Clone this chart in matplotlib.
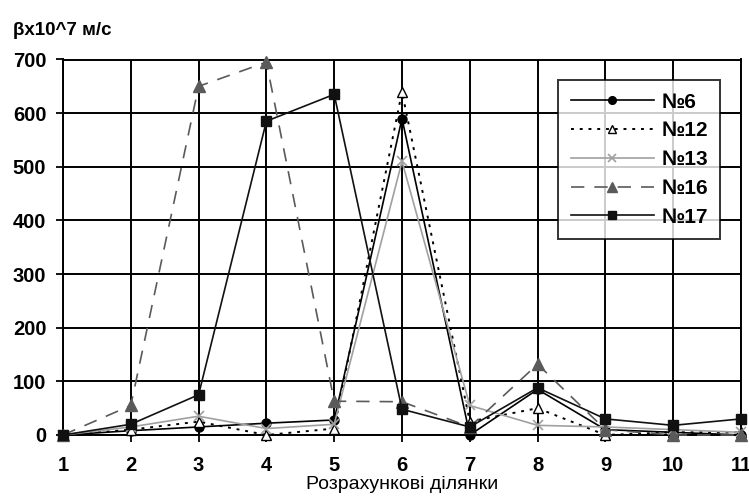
import matplotlib
matplotlib.use('Agg')
import matplotlib.pyplot as plt

plt.rcParams['font.family'] = ['Liberation Sans', 'DejaVu Sans']

# розрахункові ділянки
x = [1, 2, 3, 4, 5, 6, 7, 8, 9, 10, 11]

n6 = [0, 8, 15, 22, 28, 590, 0, 85, 10, 5, 0]
n12 = [0, 10, 25, 0, 12, 640, 25, 50, 0, 5, 5]
n13 = [0, 15, 35, 12, 20, 510, 55, 18, 15, 10, 5]
n16 = [0, 55, 650, 695, 63, 62, 15, 132, 10, 0, 0]
n17 = [0, 20, 75, 585, 635, 48, 15, 88, 30, 18, 30]

fig = plt.figure(figsize=(7.49, 5), dpi=100)
ax = fig.add_axes([0.0841, 0.13, 0.9052, 0.751])

ax.plot(x, n6, color='black', lw=1.2, marker='o', ms=6.5, label='№6', clip_on=False, zorder=5)
ax.plot(x, n12, color='black', lw=1.4, ls=(0, (1.5, 3)), marker='^', ms=7.5,
        mfc='white', mec='black', label='№12', clip_on=False, zorder=5)
ax.plot(x, n13, color='#a0a0a0', lw=1.2, marker='x', ms=7.5, mew=1.2, label='№13', clip_on=False, zorder=5)
ax.plot(x, n16, color='#5a5a5a', lw=1.2, ls=(0, (8, 6)), marker='^', ms=8, label='№16', clip_on=False, zorder=5)
ax.plot(x, n17, color='#111111', lw=1.2, marker='s', ms=7.5, label='№17', clip_on=False, zorder=5)

ax.set_xlim(1, 11)
ax.set_ylim(0, 700)
ax.set_xticks(x)
ax.set_yticks(range(0, 701, 100))
ax.grid(True, color='black', lw=1.4)
for s in ax.spines.values():
    s.set_linewidth(1.4)
ax.tick_params(axis='both', length=5, width=1.3, labelsize=14.5)
ax.tick_params(axis='x', pad=10)
ax.tick_params(axis='y', pad=7)
for t in ax.get_xticklabels() + ax.get_yticklabels():
    t.set_fontweight('bold')

ax.set_xlabel('Розрахункові ділянки', fontsize=14, labelpad=1)
fig.text(0.017, 0.93, 'βx10^7 м/с', fontsize=13.5, fontweight='bold')

leg = ax.legend(loc='upper left', bbox_to_anchor=(558 / 749, 1 - 80 / 500),
                bbox_transform=fig.transFigure, frameon=True, fancybox=False,
                edgecolor='black', handlelength=4.0, prop={'weight': 'bold', 'size': 15},
                labelspacing=0.47, borderpad=0.6, handletextpad=0.35, markerscale=0.85,
                borderaxespad=0)
leg.get_frame().set_linewidth(1.4)
leg.set_zorder(10)

fig.savefig('out.png', dpi=100)
